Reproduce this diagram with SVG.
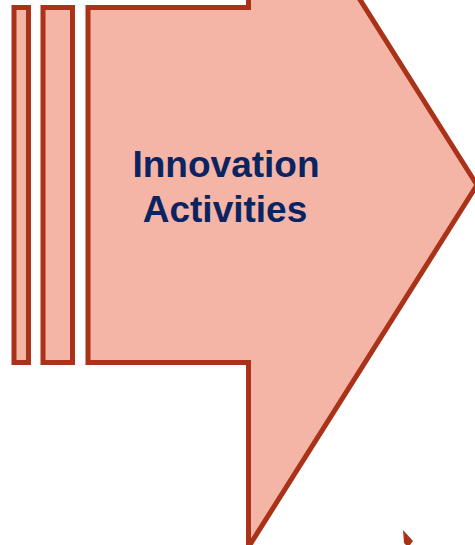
<svg xmlns="http://www.w3.org/2000/svg" width="475" height="545" viewBox="0 0 475 545">
  <style>
    .shape { fill: #F4B5A7; stroke: #A93219; stroke-width: 5; stroke-linejoin: miter; }
    .label { font-family: "Liberation Sans", Arial, sans-serif; font-weight: bold; font-size: 37px; fill: #0B2461; text-anchor: middle; }
  </style>
  <rect width="475" height="545" fill="#FFFFFF"/>
  <g id="bar1">
    <rect class="shape" x="14" y="7.5" width="14.5" height="355"/>
  </g>
  <g id="bar2">
    <rect class="shape" x="43" y="7.5" width="29.5" height="355"/>
  </g>
  <g id="arrow">
    <polygon class="shape" points="88,7.5 248.5,7.5 248.5,-177 477,185 248.5,547 248.5,362.5 88,362.5"/>
    <text class="label" x="226" y="177">Innovation</text>
    <text class="label" x="225" y="222">Activities</text>
  </g>
  <g id="connectors">
    <polygon points="403,530 404,543 406,545 410,545 413,541" fill="#A93219"/>
  </g>
</svg>
